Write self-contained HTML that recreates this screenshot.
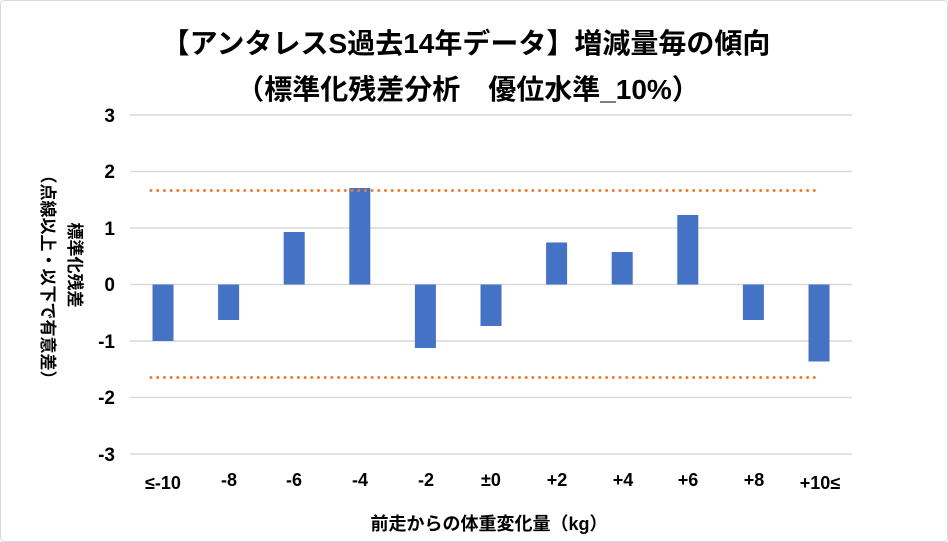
<!DOCTYPE html>
<html><head><meta charset="utf-8"><style>
body{margin:0;background:#fff}
svg{display:block}
text{font-family:"Liberation Sans","Noto Sans CJK JP",sans-serif;font-weight:bold;fill:#000}
</style></head><body>
<svg width="948" height="542" viewBox="0 0 948 542">
<rect x="0.5" y="0.5" width="947" height="541" rx="4" fill="#fff" stroke="#d9d9d9"/>
<text x="466" y="53" font-size="28" text-anchor="middle">【アンタレスS過去14年データ】増減量毎の傾向</text>
<text x="468" y="99" font-size="28" text-anchor="middle">（標準化残差分析　優位水準_10%）</text>
<g stroke="#d9d9d9" stroke-width="1.5">
<line x1="130" x2="852" y1="115" y2="115"/>
<line x1="130" x2="852" y1="171.5" y2="171.5"/>
<line x1="130" x2="852" y1="228" y2="228"/>
<line x1="130" x2="852" y1="284.5" y2="284.5"/>
<line x1="130" x2="852" y1="341" y2="341"/>
<line x1="130" x2="852" y1="397.5" y2="397.5"/>
<line x1="130" x2="852" y1="454" y2="454"/>
</g>
<g font-size="19" text-anchor="end">
<text x="115" y="122">3</text><text x="115" y="178">2</text><text x="115" y="235">1</text>
<text x="115" y="291">0</text><text x="115" y="348">-1</text><text x="115" y="404">-2</text><text x="115" y="461">-3</text>
</g>
<g fill="#4472c4">
<rect x="152.5" y="284.5" width="21" height="56.5"/>
<rect x="218.1" y="284.5" width="21" height="35.5"/>
<rect x="283.7" y="232" width="21" height="52.5"/>
<rect x="349.3" y="188" width="21" height="96.5"/>
<rect x="414.9" y="284.5" width="21" height="63.5"/>
<rect x="480.5" y="284.5" width="21" height="41.5"/>
<rect x="546.1" y="242.5" width="21" height="42"/>
<rect x="611.7" y="252" width="21" height="32.5"/>
<rect x="677.3" y="215" width="21" height="69.5"/>
<rect x="742.9" y="284.5" width="21" height="35.5"/>
<rect x="808.5" y="284.5" width="21" height="77"/>
</g>
<g stroke="#ed7d31" stroke-width="3" stroke-linecap="round" stroke-dasharray="0 6.7">
<line x1="151" x2="820" y1="190.5" y2="190.5"/>
<line x1="151" x2="820" y1="377.5" y2="377.5"/>
</g>
<g font-size="18" text-anchor="middle">
<text x="163" y="489">≤-10</text><text x="229" y="486">-8</text><text x="294" y="486">-6</text>
<text x="360" y="486">-4</text><text x="426" y="486">-2</text><text x="491" y="486">±0</text>
<text x="557" y="486">+2</text><text x="623" y="486">+4</text><text x="688" y="486">+6</text>
<text x="754" y="486">+8</text><text x="820" y="489">+10≤</text>
</g>
<text x="489" y="530" font-size="18" text-anchor="middle">前走からの体重変化量（kg）</text>
<g transform="translate(69,265) rotate(90)"><text x="0" y="0" font-size="17" text-anchor="middle">標準化残差</text></g>
<g transform="translate(42,277) rotate(90)"><text x="0" y="0" font-size="17" text-anchor="middle">（点線以上・以下で有意差）</text></g>
</svg>
</body></html>
